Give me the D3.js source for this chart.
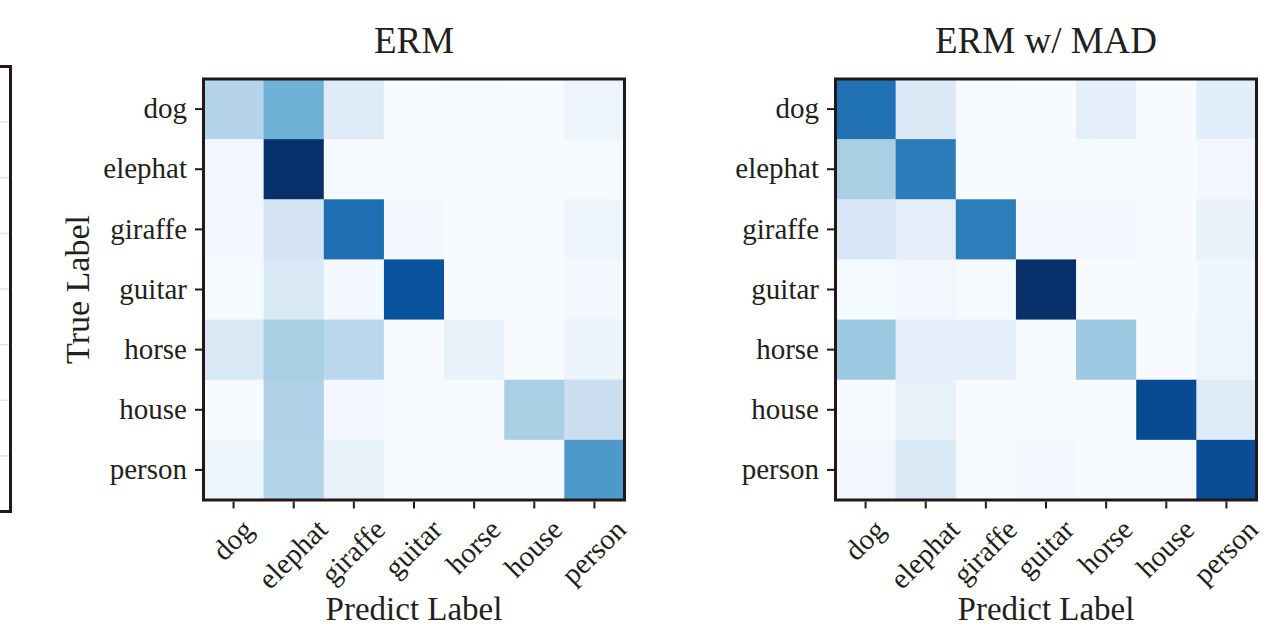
<!DOCTYPE html>
<html>
<head>
<meta charset="utf-8">
<script src="https://cdn.jsdelivr.net/npm/d3@7"></script>
<style>
  html, body { margin: 0; padding: 0; background: #ffffff; }
  svg { display: block; }
  text { font-family: "Liberation Serif", "Times New Roman", serif; fill: #231f20; }
</style>
</head>
<body>
<svg id="chart" width="1271" height="628"></svg>
<script>
// Class names shared by both confusion matrices
const categories = ["dog", "elephat", "giraffe", "guitar", "horse", "house", "person"];

// Panel titles
const panelTitles = ["ERM", "ERM w/ MAD"];

// Normalised confusion values (row = true label, column = predicted label)
const ermValues = [
  [0.30, 0.49, 0.12, 0.00, 0.01, 0.00, 0.05],
  [0.03, 1.00, 0.01, 0.00, 0.00, 0.00, 0.01],
  [0.02, 0.17, 0.76, 0.02, 0.00, 0.00, 0.05],
  [0.01, 0.15, 0.02, 0.87, 0.00, 0.00, 0.02],
  [0.15, 0.34, 0.29, 0.00, 0.07, 0.00, 0.06],
  [0.00, 0.32, 0.02, 0.01, 0.00, 0.34, 0.23],
  [0.05, 0.31, 0.08, 0.00, 0.00, 0.00, 0.59]
];

const madValues = [
  [0.75, 0.14, 0.01, 0.00, 0.09, 0.00, 0.11],
  [0.34, 0.71, 0.00, 0.00, 0.01, 0.00, 0.03],
  [0.16, 0.09, 0.70, 0.02, 0.03, 0.00, 0.07],
  [0.01, 0.03, 0.01, 1.00, 0.00, 0.00, 0.04],
  [0.38, 0.09, 0.09, 0.01, 0.38, 0.00, 0.05],
  [0.00, 0.08, 0.00, 0.01, 0.00, 0.90, 0.12],
  [0.03, 0.15, 0.01, 0.02, 0.01, 0.00, 0.89]
];

const axisTitleX = "Predict Label";
const axisTitleY = "True Label";

// Blues colour ramp (piecewise linear through the nine ColorBrewer stops)
const bluesStops = ["#f7fbff", "#deebf7", "#c6dbef", "#9ecae1", "#6baed6",
                    "#4292c6", "#2171b5", "#08519c", "#08306b"];
const color = d3.scaleLinear()
  .domain(d3.range(bluesStops.length).map(i => i / (bluesStops.length - 1)))
  .range(bluesStops)
  .interpolate(d3.interpolateRgb)
  .clamp(true);

const svg = d3.select("#chart");
const ink = "#231815";
const labelSize = 29;

// Edge of the neighbouring panel on the far left
(function drawNeighbourEdge() {
  const edgeTop = 66.5, edgeBottom = 511.5, edgeRight = 10.5;
  const g = svg.append("g");
  const rowScale = d3.scaleLinear().domain([0, 8]).range([edgeTop, edgeBottom]);
  g.selectAll("line.grid")
    .data(d3.range(1, 8))
    .join("line")
    .attr("class", "grid")
    .attr("x1", 0).attr("x2", edgeRight - 1.5)
    .attr("y1", d => rowScale(d)).attr("y2", d => rowScale(d))
    .attr("stroke", "#e3e3e3").attr("stroke-width", 1.6);
  g.append("rect")
    .attr("x", -20).attr("y", edgeTop)
    .attr("width", edgeRight + 20).attr("height", edgeBottom - edgeTop)
    .attr("fill", "none").attr("stroke", ink).attr("stroke-width", 3);
})();

const panels = [
  { title: panelTitles[0], values: ermValues, left: 203.5, showYTitle: true },
  { title: panelTitles[1], values: madValues, left: 835.5, showYTitle: false }
];
const plotTop = 79, plotSize = 421;

panels.forEach(p => {
  const g = svg.append("g");
  const x = d3.scaleBand().domain(categories).range([p.left, p.left + plotSize]);
  const y = d3.scaleBand().domain(categories).range([plotTop, plotTop + plotSize]);

  // Cells
  const cells = [];
  p.values.forEach((row, i) => row.forEach((v, j) => cells.push({ r: categories[i], c: categories[j], v })));
  g.selectAll("rect.cell")
    .data(cells)
    .join("rect")
    .attr("class", "cell")
    .attr("x", d => x(d.c))
    .attr("y", d => y(d.r))
    .attr("width", x.bandwidth() + 0.5)
    .attr("height", y.bandwidth() + 0.5)
    .attr("fill", d => color(d.v));

  // Frame
  g.append("rect")
    .attr("x", p.left).attr("y", plotTop)
    .attr("width", plotSize).attr("height", plotSize)
    .attr("fill", "none").attr("stroke", ink).attr("stroke-width", 3);

  // Y axis
  const yAxis = g.append("g")
    .attr("transform", `translate(${p.left - 1.5},0)`)
    .call(d3.axisLeft(y).tickSize(7).tickPadding(8));
  yAxis.select(".domain").remove();
  yAxis.selectAll(".tick line").attr("stroke", ink).attr("stroke-width", 2);
  yAxis.selectAll(".tick text")
    .attr("font-size", labelSize)
    .attr("font-family", "Liberation Serif")
    .attr("fill", "#231f20")
    .attr("dy", "0.32em");

  // X axis with labels rotated 45 degrees, centred under each tick
  const xAxis = g.append("g")
    .attr("transform", `translate(0,${plotTop + plotSize + 1.5})`)
    .call(d3.axisBottom(x).tickSize(7).tickPadding(8));
  xAxis.select(".domain").remove();
  xAxis.selectAll(".tick line").attr("stroke", ink).attr("stroke-width", 2);
  const labelTop = 13.5;
  const asc = 0.80 * labelSize, desc = 0.22 * labelSize, k = Math.SQRT1_2;
  xAxis.selectAll(".tick text")
    .attr("font-size", labelSize)
    .attr("font-family", "Liberation Serif")
    .attr("fill", "#231f20")
    .attr("dy", null)
    .attr("y", null)
    .attr("text-anchor", "end")
    .each(function () {
      const w = this.getComputedTextLength();
      const ex = (w + asc + desc) * k / 2 - k * desc;
      const ey = labelTop + k * asc;
      d3.select(this).attr("transform", `translate(${ex},${ey}) rotate(-45)`);
    });

  // Titles
  g.append("text")
    .attr("x", p.left + plotSize / 2).attr("y", 53)
    .attr("text-anchor", "middle")
    .attr("font-size", 37)
    .text(p.title);

  g.append("text")
    .attr("x", p.left + plotSize / 2).attr("y", 620)
    .attr("text-anchor", "middle")
    .attr("font-size", 33)
    .text(axisTitleX);

  if (p.showYTitle) {
    g.append("text")
      .attr("transform", `translate(89,${plotTop + plotSize / 2}) rotate(-90)`)
      .attr("text-anchor", "middle")
      .attr("font-size", 34)
      .text(axisTitleY);
  }
});
</script>
</body>
</html>
